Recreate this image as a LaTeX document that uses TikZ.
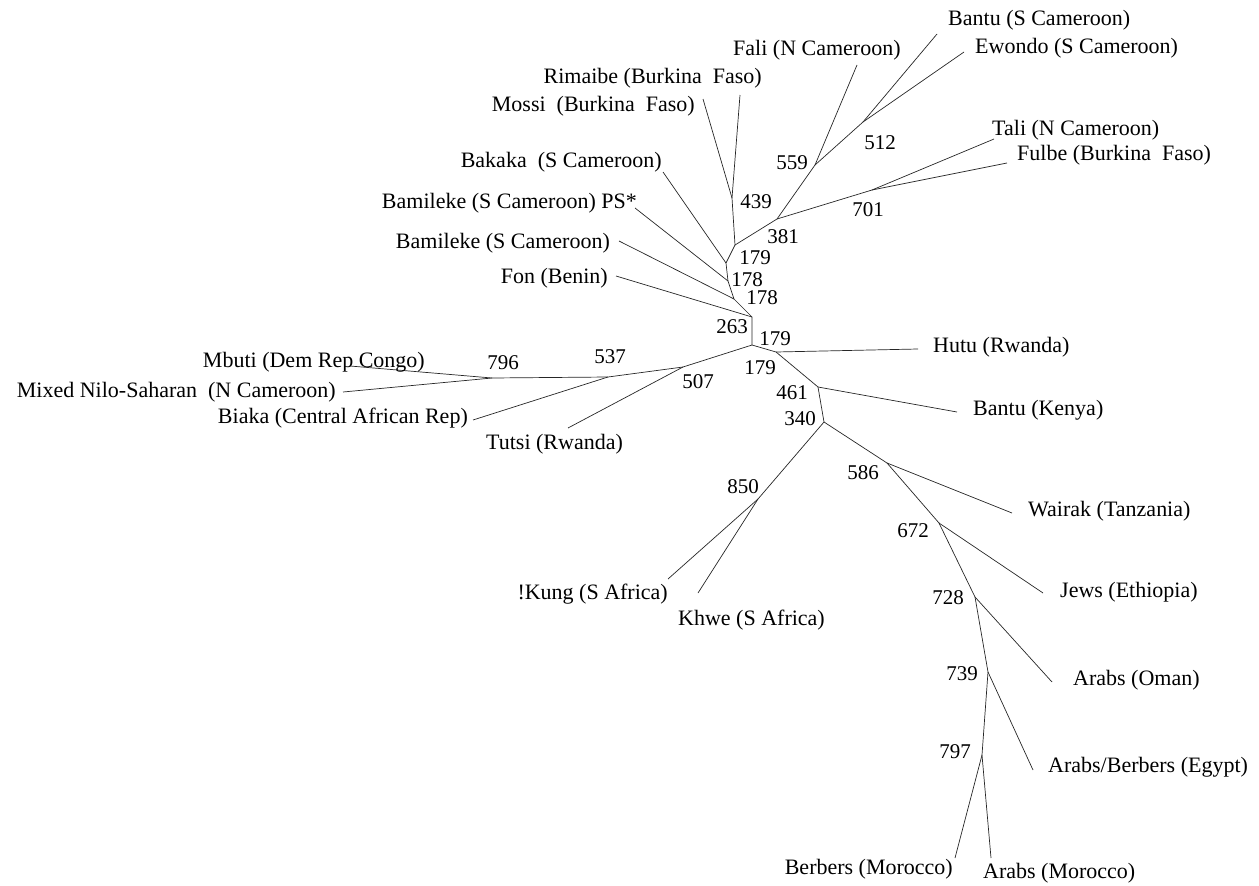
\documentclass[tikz,border=0pt]{standalone}
\usepackage{fontspec}
\setmainfont{Liberation Serif}
\begin{document}
\begin{tikzpicture}[x=1pt,y=-1pt,
  br/.style={line width=0.7pt, black!85},
  leaf/.style={font=\fontsize{22}{24}\selectfont, inner sep=0pt},
  num/.style={font=\fontsize{21}{23}\selectfont, inner sep=0pt}]
\useasboundingbox (0,0) rectangle (1259,886);
% internal nodes
\coordinate (A) at (752,317);
\coordinate (B) at (752,345);
\coordinate (C) at (776,352);
\coordinate (D) at (818,387);
\coordinate (E) at (824,422);
\coordinate (F) at (734,299);
\coordinate (K) at (728,281);
\coordinate (G) at (726,263);
\coordinate (H) at (735,245);
\coordinate (I) at (732,198);
\coordinate (J) at (777,219);
\coordinate (L) at (815,165);
\coordinate (M) at (863,122);
\coordinate (N) at (872,190);
\coordinate (P) at (492,378);
\coordinate (Q) at (608,377);
\coordinate (R) at (683,367);
\coordinate (S) at (887,463);
\coordinate (T) at (939,523);
\coordinate (U) at (975,597);
\coordinate (V) at (988,672);
\coordinate (W) at (982,755);
\coordinate (X) at (758,499);
% leaf tips
\coordinate (tFali) at (857,65);
\coordinate (tBantuS) at (937,34);
\coordinate (tEwondo) at (964,52);
\coordinate (tTali) at (994,139);
\coordinate (tFulbe) at (1007,163);
\coordinate (tMossi) at (703,99);
\coordinate (tRimaibe) at (740,95);
\coordinate (tBakaka) at (663,172);
\coordinate (tPS) at (635,208);
\coordinate (tBamileke) at (619,241);
\coordinate (tFon) at (616,276);
\coordinate (tMbuti) at (350,366);
\coordinate (tMixed) at (343,392);
\coordinate (tBiaka) at (473,420);
\coordinate (tTutsi) at (568,428);
\coordinate (tHutu) at (918,349);
\coordinate (tBantuK) at (957,412);
\coordinate (tWairak) at (1012,513);
\coordinate (tJews) at (1043,593);
\coordinate (tOman) at (1052,682);
\coordinate (tEgypt) at (1033,770);
\coordinate (tBerbersM) at (955,858);
\coordinate (tArabsM) at (991,858);
\coordinate (tKung) at (668,579);
\coordinate (tKhwe) at (698,593);
% branches
\draw[br] (A) -- (B) -- (C) -- (D) -- (E);
\draw[br] (A) -- (F) -- (K) -- (G) -- (H) -- (I);
\draw[br] (H) -- (J) -- (L) -- (M);
\draw[br] (J) -- (N);
\draw[br] (L) -- (tFali);
\draw[br] (M) -- (tBantuS);
\draw[br] (M) -- (tEwondo);
\draw[br] (N) -- (tTali);
\draw[br] (N) -- (tFulbe);
\draw[br] (I) -- (tMossi);
\draw[br] (I) -- (tRimaibe);
\draw[br] (G) -- (tBakaka);
\draw[br] (K) -- (tPS);
\draw[br] (F) -- (tBamileke);
\draw[br] (A) -- (tFon);
\draw[br] (B) -- (R) -- (Q) -- (P);
\draw[br] (P) -- (tMbuti);
\draw[br] (P) -- (tMixed);
\draw[br] (Q) -- (tBiaka);
\draw[br] (R) -- (tTutsi);
\draw[br] (C) -- (tHutu);
\draw[br] (D) -- (tBantuK);
\draw[br] (E) -- (S) -- (T) -- (U) -- (V) -- (W);
\draw[br] (S) -- (tWairak);
\draw[br] (T) -- (tJews);
\draw[br] (U) -- (tOman);
\draw[br] (V) -- (tEgypt);
\draw[br] (W) -- (tBerbersM);
\draw[br] (W) -- (tArabsM);
\draw[br] (E) -- (X);
\draw[br] (X) -- (tKung);
\draw[br] (X) -- (tKhwe);
% leaf labels
\node[leaf, anchor=west] (lBantuS) at (948,20) {Bantu (S Cameroon)};
\node[leaf, anchor=west] (lEwondo) at (975,48) {Ewondo (S Cameroon)};
\node[leaf, anchor=west] (lFali) at (733,50) {Fali (N Cameroon)};
\node[leaf, anchor=west] (lTali) at (992,130) {Tali (N Cameroon)};
\node[leaf, anchor=west] (lFulbe) at (1017,155) {Fulbe (Burkina\ \ Faso)};
\node[leaf, anchor=east] (lRimaibe) at (762,78) {Rimaibe (Burkina\ \ Faso)};
\node[leaf, anchor=east] (lMossi) at (695,106) {Mossi\ \ (Burkina\ \ Faso)};
\node[leaf, anchor=east] (lBakaka) at (662,162) {Bakaka\ \ (S Cameroon)};
\node[leaf, anchor=east] (lPS) at (637,203) {Bamileke (S Cameroon) PS*};
\node[leaf, anchor=east] (lBamileke) at (610,243) {Bamileke (S Cameroon)};
\node[leaf, anchor=east] (lFon) at (608,278) {Fon (Benin)};
\node[leaf, anchor=east] (lMbuti) at (425,362) {Mbuti (Dem Rep Congo)};
\node[leaf, anchor=east] (lMixed) at (336,392) {Mixed Nilo-Saharan\ \ (N Cameroon)};
\node[leaf, anchor=east] (lBiaka) at (468,418) {Biaka (Central African Rep)};
\node[leaf, anchor=west] (lTutsi) at (486,444) {Tutsi (Rwanda)};
\node[leaf, anchor=west] (lHutu) at (933,347) {Hutu (Rwanda)};
\node[leaf, anchor=west] (lBantuK) at (973,410) {Bantu (Kenya)};
\node[leaf, anchor=west] (lWairak) at (1028,511) {Wairak (Tanzania)};
\node[leaf, anchor=west] (lJews) at (1060,592) {Jews (Ethiopia)};
\node[leaf, anchor=west] (lOman) at (1073,680) {Arabs (Oman)};
\node[leaf, anchor=west] (lEgypt) at (1048,767) {Arabs/Berbers (Egypt)};
\node[leaf, anchor=east] (lBerbersM) at (953,869) {Berbers (Morocco)};
\node[leaf, anchor=west] (lArabsM) at (983,873) {Arabs (Morocco)};
\node[leaf, anchor=east] (lKung) at (668,594) {!Kung (S Africa)};
\node[leaf, anchor=west] (lKhwe) at (678,620) {Khwe (S Africa)};
% bootstrap values
\node[num] (n439) at (756,202) {439};
\node[num] (n179a) at (755,258) {179};
\node[num] (n178a) at (747,280) {178};
\node[num] (n178b) at (762,298) {178};
\node[num] (n263) at (732,327) {263};
\node[num] (n179b) at (775,339) {179};
\node[num] (n179c) at (760,368) {179};
\node[num] (n461) at (792,393) {461};
\node[num] (n340) at (800,419) {340};
\node[num] (n381) at (783,237) {381};
\node[num] (n559) at (792,163) {559};
\node[num] (n512) at (880,143) {512};
\node[num] (n701) at (868,210) {701};
\node[num] (n796) at (503,363) {796};
\node[num] (n537) at (610,357) {537};
\node[num] (n507) at (698,382) {507};
\node[num] (n850) at (743,487) {850};
\node[num] (n586) at (863,473) {586};
\node[num] (n672) at (913,531) {672};
\node[num] (n728) at (948,598) {728};
\node[num] (n739) at (962,674) {739};
\node[num] (n797) at (955,752) {797};
\end{tikzpicture}
\end{document}
